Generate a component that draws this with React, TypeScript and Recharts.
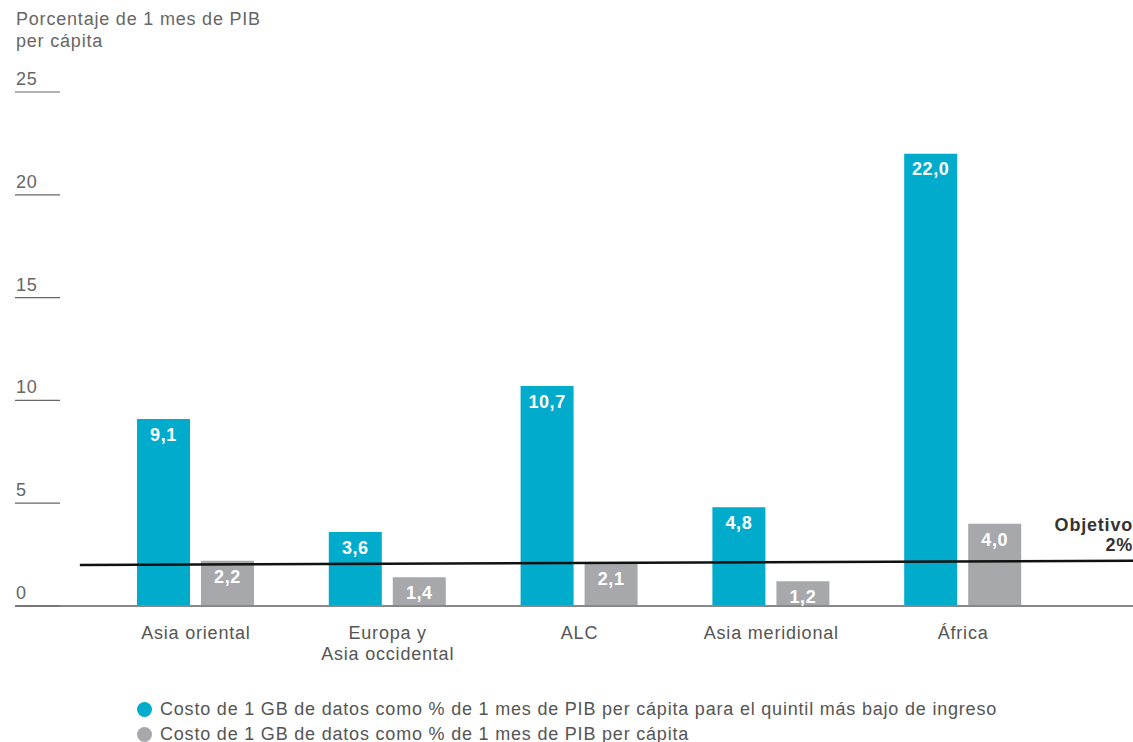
import React from 'react';
import { BarChart, Bar, XAxis, YAxis, ReferenceLine, LabelList } from 'recharts';

const categories = ['Asia oriental', 'Europa y\nAsia occidental', 'ALC', 'Asia meridional', 'África'];
const quintilBajo = [9.1, 3.6, 10.7, 4.8, 22.0];
const perCapita = [2.2, 1.4, 2.1, 1.2, 4.0];
const yTicks = [0, 5, 10, 15, 20, 25];
const objetivoInicio = 2.0;
const objetivoFin = 2.2;

const seriesNames = [
    'Costo de 1 GB de datos como % de 1 mes de PIB per cápita para el quintil más bajo de ingreso',
    'Costo de 1 GB de datos como % de 1 mes de PIB per cápita',
];

const CYAN = '#00abcb';
const GREY = '#a7a8ab';
const FONT = '"Liberation Sans", Arial, sans-serif';
const SPACING = '0.8px';

const data = categories.map((c, i) => ({ region: c, bajo: quintilBajo[i], total: perCapita[i] }));

const fmt = (v: any) => Number(v).toFixed(1).replace('.', ',');

const YTick = (props: any) => {
    const { x, y, payload } = props;
    return (
        <g>
            <line x1={x} x2={x + 45} y1={y} y2={y} stroke="#666" strokeWidth={1.2} />
            <text x={x + 1} y={y - 7} fill="#666" fontSize={18} fontFamily={FONT} letterSpacing={SPACING}>
                {payload.value}
            </text>
        </g>
    );
};

const XTick = (props: any) => {
    const { x, y, payload } = props;
    const lines = String(payload.value).split('\n');
    return (
        <text x={x} y={y} textAnchor="middle" fill="#555" fontSize={18} fontFamily={FONT} letterSpacing={SPACING}>
            {lines.map((l, i) => (
                <tspan key={i} x={x} dy={i === 0 ? 25 : 21}>{l}</tspan>
            ))}
        </text>
    );
};

export default function App() {
    return (
        <div style={{ position: 'absolute', left: 0, top: 0, width: 1133, height: 742, background: '#fff', fontFamily: FONT, letterSpacing: SPACING }}>
            <div style={{ position: 'absolute', left: 16, top: 8, fontSize: 18, lineHeight: '22px', color: '#666' }}>
                Porcentaje de 1 mes de PIB<br />per cápita
            </div>
            <BarChart
                width={1133}
                height={680}
                data={data}
                margin={{ top: 92, right: 0, bottom: 0, left: 14 }}
                barSize={53}
                barGap={11}
            >
                <XAxis
                    dataKey="region"
                    interval={0}
                    padding={{ left: 85, right: 74 }}
                    axisLine={{ stroke: '#888', strokeWidth: 2 }}
                    tickLine={false}
                    tick={<XTick />}
                    height={74}
                />
                <XAxis xAxisId="line" type="number" domain={[0, 4]} allowDataOverflow hide />
                <YAxis
                    domain={[0, 25]}
                    ticks={yTicks}
                    width={1}
                    axisLine={false}
                    tickLine={false}
                    tickSize={0}
                    tickMargin={0}
                    tick={<YTick />}
                    interval={0}
                />
                <Bar dataKey="bajo" fill={CYAN} isAnimationActive={false}>
                    <LabelList dataKey="bajo" position="insideTop" offset={9} formatter={fmt} fill="#fff" fontSize={18} fontWeight={700} fontFamily={FONT} letterSpacing="0.6px" />
                </Bar>
                <Bar dataKey="total" fill={GREY} isAnimationActive={false}>
                    <LabelList dataKey="total" position="insideTop" offset={9} formatter={fmt} fill="#fff" fontSize={18} fontWeight={700} fontFamily={FONT} letterSpacing="0.6px" />
                </Bar>
                <ReferenceLine
                    xAxisId="line"
                    segment={[{ x: 0.232, y: objetivoInicio }, { x: 4, y: objetivoFin }]}
                    stroke="#111"
                    strokeWidth={2.5}
                    ifOverflow="visible"
                />
            </BarChart>
            <div style={{ position: 'absolute', right: 0, top: 515, textAlign: 'right', fontSize: 18, lineHeight: '20px', fontWeight: 700, color: '#333' }}>
                Objetivo<br />2%
            </div>
            <div style={{ position: 'absolute', left: 137, top: 697, fontSize: 18, lineHeight: '25px', color: '#555' }}>
                {seriesNames.map((n, i) => (
                    <div key={i} style={{ display: 'flex', alignItems: 'center' }}>
                        <span style={{ display: 'inline-block', width: 15, height: 15, borderRadius: '50%', background: i === 0 ? CYAN : GREY, marginRight: 8 }} />
                        {n}
                    </div>
                ))}
            </div>
        </div>
    );
}
